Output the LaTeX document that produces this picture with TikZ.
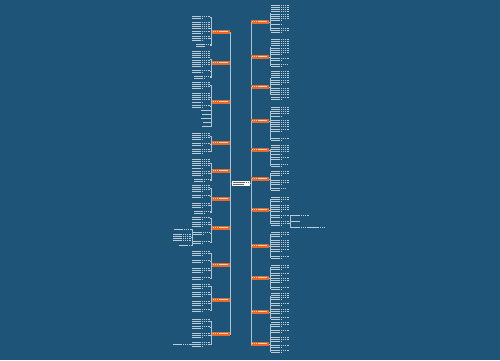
\documentclass[tikz,border=0pt]{standalone}
\usepackage{tikz}
\usetikzlibrary{positioning}
\definecolor{mapbg}{RGB}{29,84,119}
\definecolor{topicorange}{RGB}{232,104,40}
\definecolor{linkgray}{RGB}{170,196,212}

\tikzset{
  topic/.style={fill=topicorange, minimum width=18pt, minimum height=4.2pt, inner sep=0pt},
  leaf/.style={inner sep=0pt},
  conn/.style={draw=linkgray, line width=0.45pt},
  txt/.style={draw=white, opacity=0.7, line width=0.8pt, dash pattern=on 1.5pt off 0.4pt},
}

\begin{document}
\begin{tikzpicture}[x=1pt, y=-1pt]
    % Background
    \fill[mapbg] (0,0) rectangle (500,360);
    \useasboundingbox (0,0) rectangle (500,360);

    % Central topic
    \node[fill=white, minimum width=18pt, minimum height=5.5pt, inner sep=0pt] (center) at (240.5,183.5) {};
    \draw[txt, draw=gray!80!black, opacity=1] (232.5,182.2) -- ++(16,0);
    \draw[txt, draw=gray!80!black, opacity=1] (232.5,184.8) -- ++(11,0);

    % Left topics
    \foreach \y [count=\i] in {32,63,102,143,171,199,228,265,300,334} {
        \node[topic, anchor=east] (l\i) at (230,\y) {};
        \draw[txt] (212.8,\y-0.4) -- ++(15,0);
        \draw[conn] (center.west) -- ++(-1,0) |- (l\i.east);
    }

    % Right topics
    \foreach \y [count=\i] in {22,57,87,121,150,179,210,246,278,312,344} {
        \node[topic, anchor=west] (r\i) at (251,\y) {};
        \draw[txt] (251.8,\y-0.4) -- ++(15,0);
        \draw[conn] (center.east) -- ++(1.5,0) |- (r\i.west);
    }

    % Left leaves: topic/top/lines/width
    \foreach \g/\t/\n/\w [count=\k] in {1/15/2/18, 1/21/6/18, 1/35/3/18, 1/43/2/14,
        2/50/8/18, 2/69/2/18, 2/75/2/16,
        3/81/4/18, 3/92/5/18, 3/104/2/18, 3/109/1/9, 3/113/1/8, 3/117/1/9, 3/121/1/7, 3/125/1/8,
        4/132/4/18, 4/142/2/18, 4/148/3/18,
        5/158/5/18, 5/170/3/18, 5/178/2/16,
        6/184/4/18, 6/194/2/18, 6/202/3/18, 6/210/2/16,
        7/216/2/18, 7/221/3/18, 7/231/2/17, 7/240/2/18,
        8/250/3/18, 8/259/2/18, 8/267/3/18, 8/276/2/18,
        9/283/3/18, 9/291/3/18, 9/300/3/18, 9/308/2/18,
        10/318/3/18, 10/325/2/18, 10/332/3/18, 10/341/3/18} {
        \node[leaf, anchor=north east, minimum width=\w pt, minimum height=\n*2.2pt] (lf\k) at (210,\t) {};
        \foreach \j in {1,...,\n} {
            \pgfmathsetmacro{\len}{(\j==\n && \n>1) ? 0.6*\w : \w-0.6}
            \draw[txt] (210-\w+0.3,\t+\j*2.2-1.1) -- ++(\len,0);
        }
        \draw[conn] (l\g.west) -- ++(-0.8,0) |- (lf\k.east);
    }

    % Right leaves: topic/top/lines/width
    \foreach \g/\t/\n/\w [count=\k] in {1/4/8/18, 1/23/1/12, 1/27/3/18,
        2/38/8/18, 2/57/2/18, 2/63/2/16,
        3/70/7/18, 3/87/6/18,
        4/106/5/18, 4/119/6/18, 4/137/2/18,
        5/144/5/18, 5/156/2/18, 5/163/2/16,
        6/170/3/18, 6/179/3/18, 6/187/2/14,
        7/196/3/18, 7/204/4/18, 7/214/2/18, 7/220/3/18,
        8/231/3/18, 8/239/6/18, 8/255/2/18,
        9/264/3/18, 9/272/2/18, 9/277/3/18, 9/286/2/18,
        10/292/4/18, 10/302/2/18, 10/308/3/18, 10/316/2/18,
        11/321/3/18, 11/329/2/18, 11/336/3/18, 11/344/2/18, 11/349/2/18} {
        \node[leaf, anchor=north west, minimum width=\w pt, minimum height=\n*2.2pt] (rf\k) at (271,\t) {};
        \foreach \j in {1,...,\n} {
            \pgfmathsetmacro{\len}{(\j==\n && \n>1) ? 0.6*\w : \w-0.6}
            \draw[txt] (271.3,\t+\j*2.2-1.1) -- ++(\len,0);
        }
        \draw[conn] (r\g.east) -- ++(0.8,0) |- (rf\k.west);
    }

    % Second level on the left
    \foreach \p/\t/\n/\w [count=\k] in {28/228/1/17, 28/233/4/18, 28/244/1/12, 41/343/1/18} {
        \node[leaf, anchor=north east, minimum width=\w pt, minimum height=\n*2.2pt] (ls\k) at (191,\t) {};
        \foreach \j in {1,...,\n} {
            \draw[txt] (191-\w+0.3,\t+\j*2.2-1.1) -- ++(\w-0.6,0);
        }
        \draw[conn] (lf\p.west) -- ++(-0.5,0) |- (ls\k.east);
    }

    % Second level on the right
    \foreach \t/\n/\w [count=\k] in {214/1/18, 220/1/10, 226/1/34} {
        \node[leaf, anchor=north west, minimum width=\w pt, minimum height=\n*2.2pt] (rs\k) at (291,\t) {};
        \draw[txt] (291.3,\t+1.1) -- ++(\w-0.6,0);
        \draw[conn] (rf21.east) -- ++(0.6,0) |- (rs\k.west);
    }
\end{tikzpicture}
\end{document}
